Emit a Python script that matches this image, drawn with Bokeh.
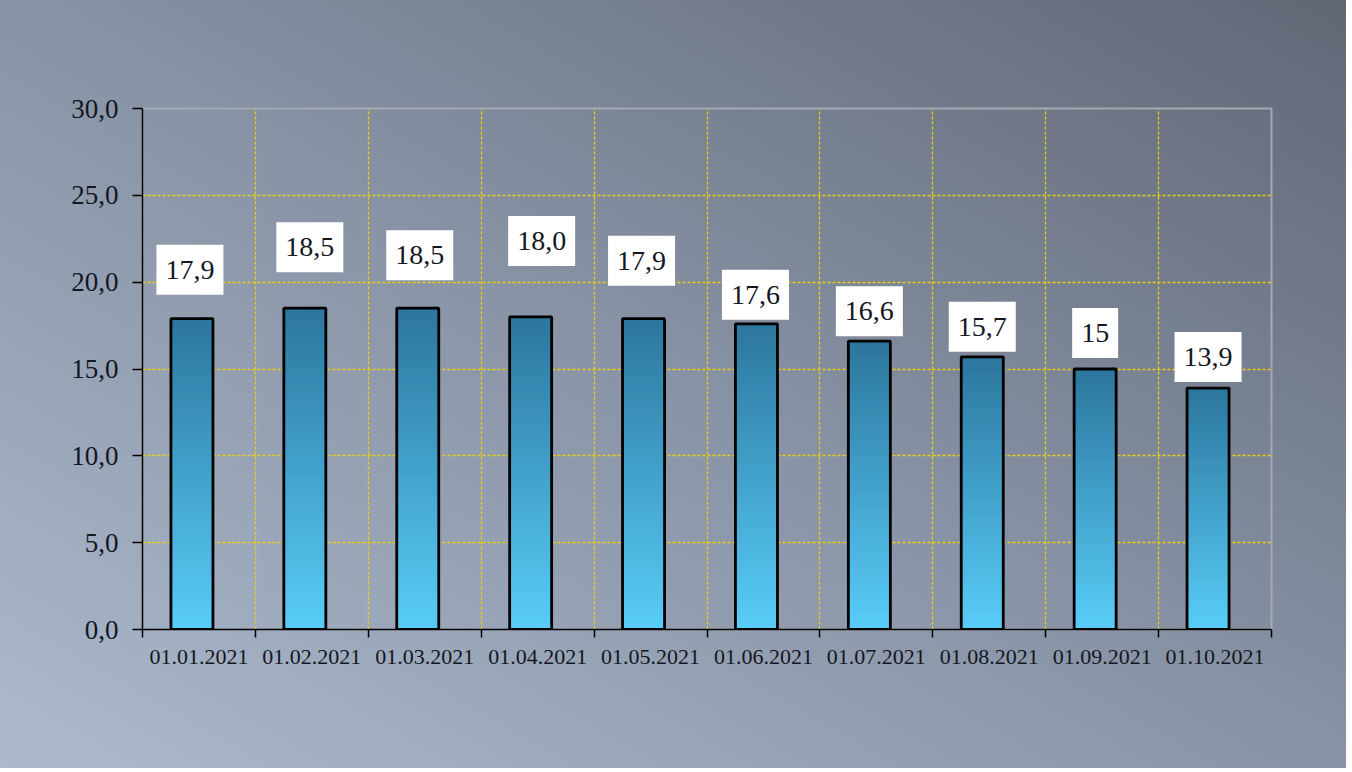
import numpy as np
from bokeh.plotting import figure
from bokeh.models import Range1d, FixedTicker, ColumnDataSource
from bokeh.core.properties import value
from bokeh.embed import file_html
from bokeh.resources import INLINE

# ---------------- data ----------------
dates = ["01.01.2021", "01.02.2021", "01.03.2021", "01.04.2021", "01.05.2021",
         "01.06.2021", "01.07.2021", "01.08.2021", "01.09.2021", "01.10.2021"]
values = [17.9, 18.5, 18.5, 18.0, 17.9, 17.6, 16.6, 15.7, 15.0, 13.9]
value_labels = ["17,9", "18,5", "18,5", "18,0", "17,9", "17,6", "16,6", "15,7", "15", "13,9"]
y_ticks = [0, 5, 10, 15, 20, 25, 30]
y_tick_labels = ["0,0", "5,0", "10,0", "15,0", "20,0", "25,0", "30,0"]

# ---------------- layout / style ----------------
W, H = 1346, 768
BL, BR, BT, BB = 142, 75, 108, 139
FW, FH = W - BL - BR, H - BT - BB
YMAX = 30
n = len(values)
px_per_x = FW / n
px_per_y = FH / YMAX

bar_width = 0.372
bar_shift_px = -7
# label placement relative to the bar top (pixels)
label_lift_px = [49, 61, 53, 76, 58, 29, 30, 30, 36, 31]
label_dx_px = [-2, 5, 2, 11, -2, -1, 0, 0, 0, 0]

FONT = "Liberation Serif"
TEXT_COLOR = "#14171f"
GRID_COLOR = "#e8d010"
c_bottom = np.array([0x58, 0xcd, 0xf8])
c_top = np.array([0x2c, 0x76, 0x9e])

p = figure(width=W, height=H, output_backend="svg", toolbar_location=None,
           x_range=Range1d(0, n), y_range=Range1d(0, YMAX),
           min_border_left=BL, min_border_right=BR, min_border_top=BT, min_border_bottom=BB)
p.styles = {"background-image": "linear-gradient(to top right, #adbacd 0%, #8893a5 50%, #616775 100%)"}
p.border_fill_alpha = 0
p.background_fill_alpha = 0
p.outline_line_color = "#a3a8b2"
p.outline_line_width = 2

# axes
centers = [i + 0.5 for i in range(n)]
bounds = [float(i) for i in range(n + 1)]
xt = FixedTicker(ticks=centers, minor_ticks=bounds)
p.xaxis.ticker = xt
p.xaxis.major_label_overrides = {c: d for c, d in zip(centers, dates)}
p.xaxis.major_tick_out = 0
p.xaxis.major_tick_in = 0
p.xaxis.minor_tick_out = 8
p.xaxis.minor_tick_in = 0
p.xaxis.minor_tick_line_color = "black"
p.xaxis.minor_tick_line_width = 1.5
p.xaxis.major_label_standoff = 12
p.xaxis.major_label_text_font = FONT
p.xaxis.major_label_text_font_size = "22px"
p.xaxis.major_label_text_color = TEXT_COLOR
p.xaxis.axis_line_color = "black"
p.xaxis.axis_line_width = 1.5

p.yaxis.ticker = FixedTicker(ticks=y_ticks)
p.yaxis.major_label_overrides = {t: l for t, l in zip(y_ticks, y_tick_labels)}
p.yaxis.major_tick_out = 10
p.yaxis.major_tick_in = 0
p.yaxis.major_tick_line_color = "black"
p.yaxis.major_tick_line_width = 1.5
p.yaxis.minor_tick_line_color = None
p.yaxis.major_label_standoff = 14
p.yaxis.major_label_text_font = FONT
p.yaxis.major_label_text_font_size = "27px"
p.yaxis.major_label_text_color = TEXT_COLOR
p.yaxis.axis_line_color = "black"
p.yaxis.axis_line_width = 1.5

# grids
p.xgrid.ticker = xt
p.xgrid.grid_line_color = None
p.xgrid.minor_grid_line_color = GRID_COLOR
p.xgrid.minor_grid_line_dash = "3 2"
p.xgrid.minor_grid_line_width = 1.3
p.ygrid.grid_line_color = GRID_COLOR
p.ygrid.grid_line_dash = "3 2"
p.ygrid.grid_line_width = 1.3

# gradient bars (stacked thin slices)
NS = 70
L, R, B, T, C = [], [], [], [], []
bx = [c + bar_shift_px / px_per_x for c in centers]
for xc, v in zip(bx, values):
    for k in range(NS):
        f = (k + 0.5) / NS
        col = c_bottom + (c_top - c_bottom) * f
        L.append(xc - bar_width / 2)
        R.append(xc + bar_width / 2)
        B.append(v * k / NS)
        T.append(v * (k + 1) / NS + v / NS * 0.3 if k < NS - 1 else v)
        C.append("#%02x%02x%02x" % tuple(int(round(c)) for c in col))
p.quad(left=L, right=R, bottom=B, top=T, fill_color=C, line_color=None)

bars = ColumnDataSource(dict(x=bx, top=values))
p.vbar(x="x", top="top", width=bar_width, bottom=0, source=bars,
       fill_color=None, line_color="black", line_width=2.8)

# value labels in white boxes
lab = ColumnDataSource(dict(
    x=[c + dx / px_per_x for c, dx in zip(bx, label_dx_px)],
    y=[v + lift / px_per_y for v, lift in zip(values, label_lift_px)],
    text=value_labels))
p.text(x="x", y="y", text="text", source=lab, text_font=value(FONT),
       text_font_size="28px", text_color=TEXT_COLOR, text_align="center",
       text_baseline="middle", background_fill_color="white",
       padding=dict(left=9, right=9, top=16, bottom=16))

open("out.html", "w").write(file_html(p, INLINE))
